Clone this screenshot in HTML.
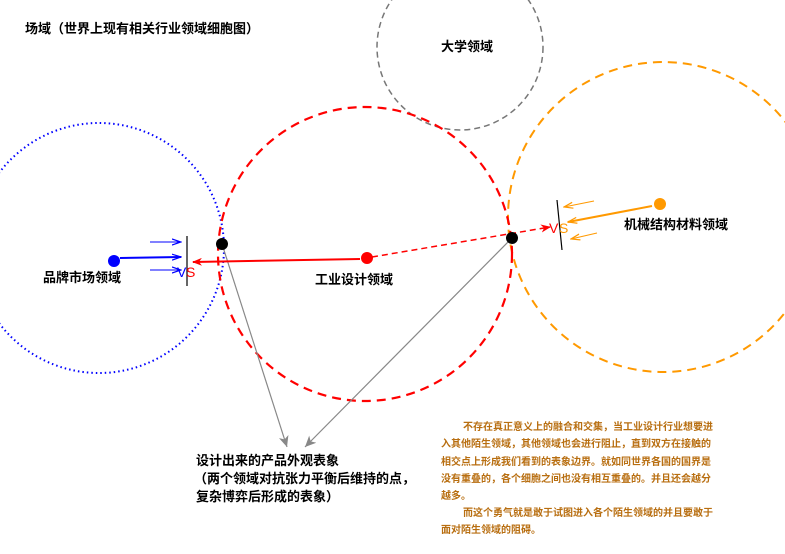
<!DOCTYPE html>
<html><head><meta charset="utf-8"><style>
html,body{margin:0;padding:0;background:#fff;}
svg{display:block;}
text{font-family:"Liberation Sans","Noto Sans CJK SC",sans-serif;}
</style></head><body>
<svg width="785" height="554" viewBox="0 0 785 554" xmlns="http://www.w3.org/2000/svg">
<defs>
<marker id="ar" markerWidth="10" markerHeight="8" refX="9" refY="4" orient="auto" markerUnits="userSpaceOnUse"><path d="M0,0 L10,4 L0,8 L3,4z" fill="#f00"/></marker>
<marker id="ab" markerWidth="10" markerHeight="8" refX="9" refY="4" orient="auto" markerUnits="userSpaceOnUse"><path d="M0,1 L9,4 L0,7" fill="none" stroke="#00f" stroke-width="1.2"/></marker>
<marker id="ao" markerWidth="10" markerHeight="8" refX="9" refY="4" orient="auto" markerUnits="userSpaceOnUse"><path d="M0,1 L9,4 L0,7" fill="none" stroke="#f90" stroke-width="1.2"/></marker>
<marker id="ag" markerWidth="12" markerHeight="10" refX="11" refY="5" orient="auto" markerUnits="userSpaceOnUse"><path d="M0,0 L11,5 L0,10 L3,5z" fill="#888"/></marker>
</defs>
<circle cx="460" cy="47" r="83" fill="none" stroke="#777" stroke-width="1.5" stroke-dasharray="6,4"/>
<circle cx="99" cy="248" r="125" fill="none" stroke="#00f" stroke-width="2" stroke-dasharray="1.5,3"/>
<circle cx="663" cy="217" r="155" fill="none" stroke="#f90" stroke-width="2" stroke-dasharray="9,6"/>
<circle cx="365" cy="254" r="147" fill="none" stroke="#f00" stroke-width="2.2" stroke-dasharray="9,6"/>

<line x1="222" y1="244" x2="287" y2="447" stroke="#888" stroke-width="1.2" marker-end="url(#ag)"/>
<line x1="512" y1="238" x2="305" y2="447" stroke="#888" stroke-width="1.2" marker-end="url(#ag)"/>

<line x1="187" y1="236" x2="187" y2="286" stroke="#000" stroke-width="1.2"/>
<line x1="557" y1="200" x2="562" y2="250" stroke="#000" stroke-width="1.2"/>

<line x1="150" y1="242" x2="181" y2="242" stroke="#00f" stroke-width="1" marker-end="url(#ab)"/>
<line x1="120" y1="258" x2="181" y2="257" stroke="#00f" stroke-width="2" marker-end="url(#ab)"/>
<line x1="150" y1="270" x2="181" y2="270" stroke="#00f" stroke-width="1" marker-end="url(#ab)"/>
<text x="177" y="277" font-size="14" fill="#00f">V</text>
<text x="186" y="277" font-size="14" fill="#f00">S</text>

<line x1="360" y1="259" x2="193" y2="262" stroke="#f00" stroke-width="2" marker-end="url(#ar)"/>
<line x1="372" y1="257" x2="550" y2="227" stroke="#f00" stroke-width="1.5" stroke-dasharray="6,4" marker-end="url(#ar)"/>
<text x="549" y="233" font-size="14" fill="#f00">V</text>
<text x="559" y="233" font-size="14" fill="#f90">S</text>
<line x1="594" y1="201" x2="564" y2="207" stroke="#f90" stroke-width="1" marker-end="url(#ao)"/>
<line x1="652" y1="206" x2="568" y2="222" stroke="#f90" stroke-width="2" marker-end="url(#ao)"/>
<line x1="597" y1="233" x2="571" y2="239" stroke="#f90" stroke-width="1" marker-end="url(#ao)"/>

<circle cx="114" cy="261" r="6" fill="#00f"/>
<circle cx="222" cy="244" r="6" fill="#000"/>
<circle cx="367" cy="258" r="6" fill="#f00"/>
<circle cx="512" cy="238" r="6" fill="#000"/>
<circle cx="660" cy="204" r="6" fill="#f90"/>

<g font-size="13" fill="#000" font-weight="bold">
<text x="25" y="33">场域（世界上现有相关行业领域细胞图）</text>
<text x="441" y="51">大学领域</text>
<text x="43" y="282">品牌市场领域</text>
<text x="315" y="284">工业设计领域</text>
<text x="624" y="229">机械结构材料领域</text>
<text x="196" y="465">设计出来的产品外观表象</text>
<text x="194" y="483">（两个领域对抗张力平衡后维持的点，</text>
<text x="196" y="501">复杂博弈后形成的表象）</text>
</g>
<g font-size="10" fill="#b86e10" font-weight="bold">
<text x="463" y="430">不存在真正意义上的融合和交集，当工业设计行业想要进</text>
<text x="441" y="447">入其他陌生领域，其他领域也会进行阻止，直到双方在接触的</text>
<text x="441" y="465">相交点上形成我们看到的表象边界。就如同世界各国的国界是</text>
<text x="441" y="482">没有重叠的，各个细胞之间也没有相互重叠的。并且还会越分</text>
<text x="441" y="499">越多。</text>
<text x="463" y="516">而这个勇气就是敢于试图进入各个陌生领域的并且要敢于</text>
<text x="441" y="533">面对陌生领域的阻碍。</text>
</g>
</svg>
</body></html>
